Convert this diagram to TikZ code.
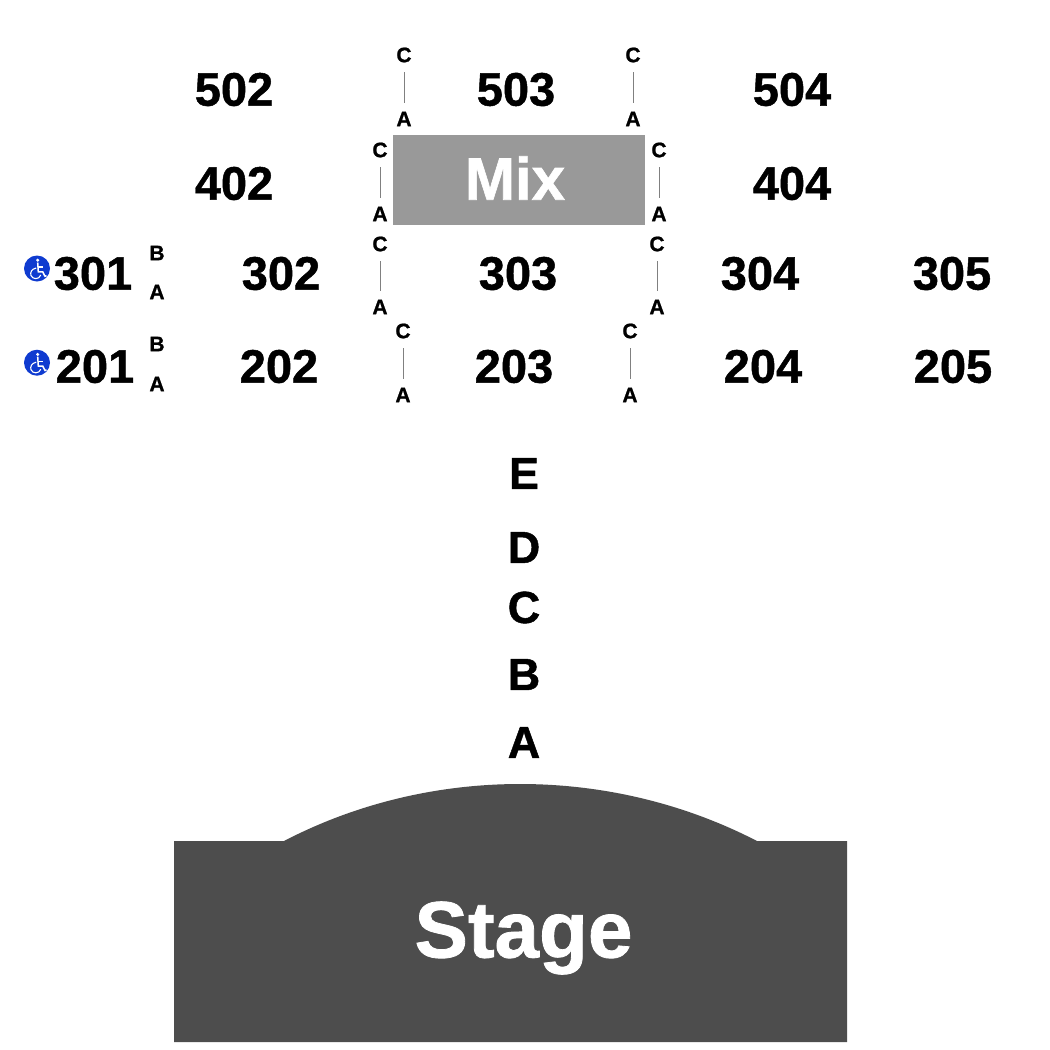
\documentclass[tikz,border=0pt]{standalone}
\usepackage{fontspec}
\setmainfont{Liberation Sans}[BoldFeatures={FakeBold=1}]
\definecolor{stagec}{HTML}{4D4D4D}
\definecolor{mixc}{HTML}{999999}
\definecolor{wheel}{HTML}{0F3BD0}
\tikzset{
 x=1pt,y=-1pt,
 sec/.style={font=\bfseries\fontsize{47}{47}\selectfont,inner sep=0pt,anchor=center},
 rowl/.style={font=\bfseries\fontsize{45}{45}\selectfont,inner sep=0pt,anchor=center},
 sm/.style={font=\bfseries\fontsize{21}{21}\selectfont,inner sep=0pt,anchor=center},
 tickline/.style={draw=black!50,line width=0.8pt,shorten >=8.5pt,shorten <=9.5pt},
 dot/.style={circle,fill=wheel,minimum size=26pt,inner sep=0pt},
}
\newcommand{\wheelchair}[1]{%
 \begin{scope}[shift={(#1)}]
  \fill[white] (0.7,-8.3) circle (1.7);
  \draw[white,line width=1.5pt] (0.7,-6) -- (1.3,3.3) -- (5.7,3.3) -- (8,7.8) -- (9.5,7.2);
  \draw[white,line width=1.2pt] (1,-1.5) -- (5.5,-1.5);
  \draw[white,line width=1.1pt] (-0.8,-0.5) .. controls (-5.5,0.5) and (-7,4) .. (-6,7) .. controls (-4.5,11) and (2,11.5) .. (3.8,6.5);
 \end{scope}}
\begin{document}
\begin{tikzpicture}
\useasboundingbox (0,0) rectangle (1050,1050);
\fill[white] (0,0) rectangle (1050,1050);
\fill[stagec] (174,841) -- (284,841) .. controls (430,765) and (610,765) .. (757,841) -- (847,841) -- (847,1042) -- (174,1042) -- cycle;
\node[font=\bfseries\fontsize{80}{80}\selectfont,text=white,inner sep=0pt] (stage) at (523.5,938) {Stage};
\fill[mixc] (393,135) rectangle (645,225);
\node[font=\bfseries\fontsize{60}{60}\selectfont,text=white,inner sep=0pt] (mix) at (515,178) {Mix};
\foreach \n/\t/\x/\y in {a/502/234/89.5,b/503/516/89.5,c/504/792/89.5,d/402/234/183.5,e/404/792/183.5,f/301/93/273.5,g/302/281/273.5,h/303/518/273.5,i/304/760/273.5,j/305/952/273.5,k/201/95/366.5,l/202/279/366.5,m/203/514/366.5,n/204/763/366.5,o/205/953/366.5}
  \node[sec] (s\n) at (\x,\y) {\t};
\foreach \t/\y in {E/473.5,D/547.5,C/607.5,B/674.5,A/742.5}
  \node[rowl] (r\t) at (524,\y) {\t};
\foreach \n/\x/\yc/\ya in {p/404/55/119,q/633/55/119,r/380/150/214,s/659/150/214,t/380/244/307,u/657/244/307,v/403/331/395,w/630/331/395}{
  \node[sm] (c\n) at (\x,\yc) {C};
  \node[sm] (a\n) at (\x,\ya) {A};
  \draw[tickline] (c\n.south) -- (a\n.north);
}
\node[sm] (b1) at (157,253) {B};
\node[sm] (a1) at (157,292) {A};
\node[sm] (b2) at (157,344) {B};
\node[sm] (a2) at (157,384) {A};
\node[dot] (w1) at (37,268.5) {};
\node[dot] (w2) at (37,362.7) {};
\wheelchair{37,268.5}
\wheelchair{37,362.7}
\end{tikzpicture}
\end{document}
